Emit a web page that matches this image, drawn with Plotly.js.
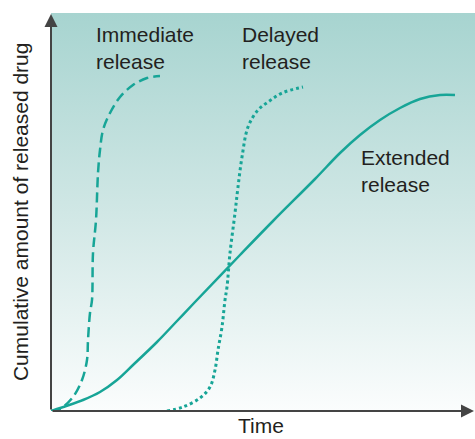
<!DOCTYPE html>
<html>
<head>
<meta charset="utf-8">
<script src="https://cdn.plot.ly/plotly-3.0.1.min.js"></script>
<style>
  html, body { margin: 0; padding: 0; background: #fff; }
  #chart { width: 475px; height: 439px; }
</style>
</head>
<body>
<div id="chart"></div>
<script>
// values (time / cumulative amount, arbitrary units)
var immediateTime = [0, 9, 22, 31, 36, 37, 39, 41, 42, 45, 47, 49, 52, 59, 69, 82, 96, 109];
var immediateAmount = [0, 2, 14, 31, 51, 71, 98, 111, 158, 191, 238, 261, 281, 298, 314, 326, 333, 335];

var delayedTime = [116, 132, 149, 159, 164, 167, 171, 174, 176, 179, 184, 187, 191, 197, 207, 217, 231, 252];
var delayedAmount = [0, 4, 13, 24, 41, 61, 84, 111, 124, 158, 198, 224, 254, 284, 301, 309, 318, 324];

var extendedTime = [0, 32, 49, 66, 82, 106, 126, 144, 189, 222, 264, 289, 309, 329, 349, 369, 389, 404];
var extendedAmount = [0, 11, 19, 31, 46, 69, 90, 109, 156, 190, 232, 258, 276, 291, 303, 312, 316, 316];

var labels = ['Immediate<br>release', 'Delayed<br>release', 'Extended<br>release'];
var labelX = [43, 189, 308];
var labelY = [363, 363, 240];

var xMax = 424, yMax = 398;
var teal = '#17a597';

var background = {
    x: [0, xMax, xMax, 0, 0],
    y: [0, 0, yMax, yMax, 0],
    mode: 'lines',
    line: {width: 0},
    fill: 'toself',
    fillgradient: {
        type: 'vertical',
        start: 0,
        stop: yMax,
        colorscale: [[0, '#fbfdfd'], [0.5, '#d0e7e5'], [1, '#a7d4d0']]
    },
    hoverinfo: 'skip',
    showlegend: false
};

var immediate = {
    x: immediateTime, y: immediateAmount,
    mode: 'lines',
    line: {color: teal, width: 2.5, dash: '10px,5px', shape: 'spline'},
    name: 'Immediate release'
};
var delayed = {
    x: delayedTime, y: delayedAmount,
    mode: 'lines',
    line: {color: teal, width: 3, dash: 'dot', shape: 'spline'},
    name: 'Delayed release'
};
var extended = {
    x: extendedTime, y: extendedAmount,
    mode: 'lines',
    line: {color: teal, width: 2.5, shape: 'spline'},
    name: 'Extended release'
};

var font = {family: 'Liberation Sans, Arial, sans-serif', size: 21, color: '#231f20'};

var annotations = labels.map(function(t, i) {
    return {
        x: labelX[i], y: labelY[i], xref: 'x', yref: 'y',
        text: t, showarrow: false, xanchor: 'left', yanchor: 'middle',
        align: 'left', font: font
    };
});

// axes with arrow heads
annotations.push({
    x: 423, y: 0, ax: 0, ay: 0, xref: 'x', yref: 'y', axref: 'x', ayref: 'y',
    text: '', showarrow: true, arrowhead: 2, arrowsize: 1.3, arrowwidth: 2,
    arrowcolor: '#444'
});
annotations.push({
    x: 0, y: 397, ax: 0, ay: 0, xref: 'x', yref: 'y', axref: 'x', ayref: 'y',
    text: '', showarrow: true, arrowhead: 2, arrowsize: 1.3, arrowwidth: 2,
    arrowcolor: '#444'
});

// axis titles
annotations.push({
    x: 0.495, y: -0.0695, xref: 'paper', yref: 'paper',
    text: 'Time', showarrow: false, xanchor: 'center', yanchor: 'bottom', font: font
});
annotations.push({
    x: -0.073, y: 0.5, xref: 'paper', yref: 'paper',
    text: 'Cumulative amount of released drug', textangle: -90,
    showarrow: false, xanchor: 'center', yanchor: 'middle', font: font
});

var layout = {
    width: 475,
    height: 439,
    margin: {l: 51, r: 0, t: 13, b: 28},
    paper_bgcolor: '#ffffff',
    plot_bgcolor: 'rgba(0,0,0,0)',
    showlegend: false,
    xaxis: {
        range: [0, xMax],
        showgrid: false, zeroline: false, showticklabels: false, ticks: '',
        fixedrange: true
    },
    yaxis: {
        range: [0, yMax],
        showgrid: false, zeroline: false, showticklabels: false, ticks: '',
        fixedrange: true
    },
    annotations: annotations
};

Plotly.newPlot('chart', [background, immediate, delayed, extended], layout, {displayModeBar: false, staticPlot: true});
</script>
</body>
</html>
